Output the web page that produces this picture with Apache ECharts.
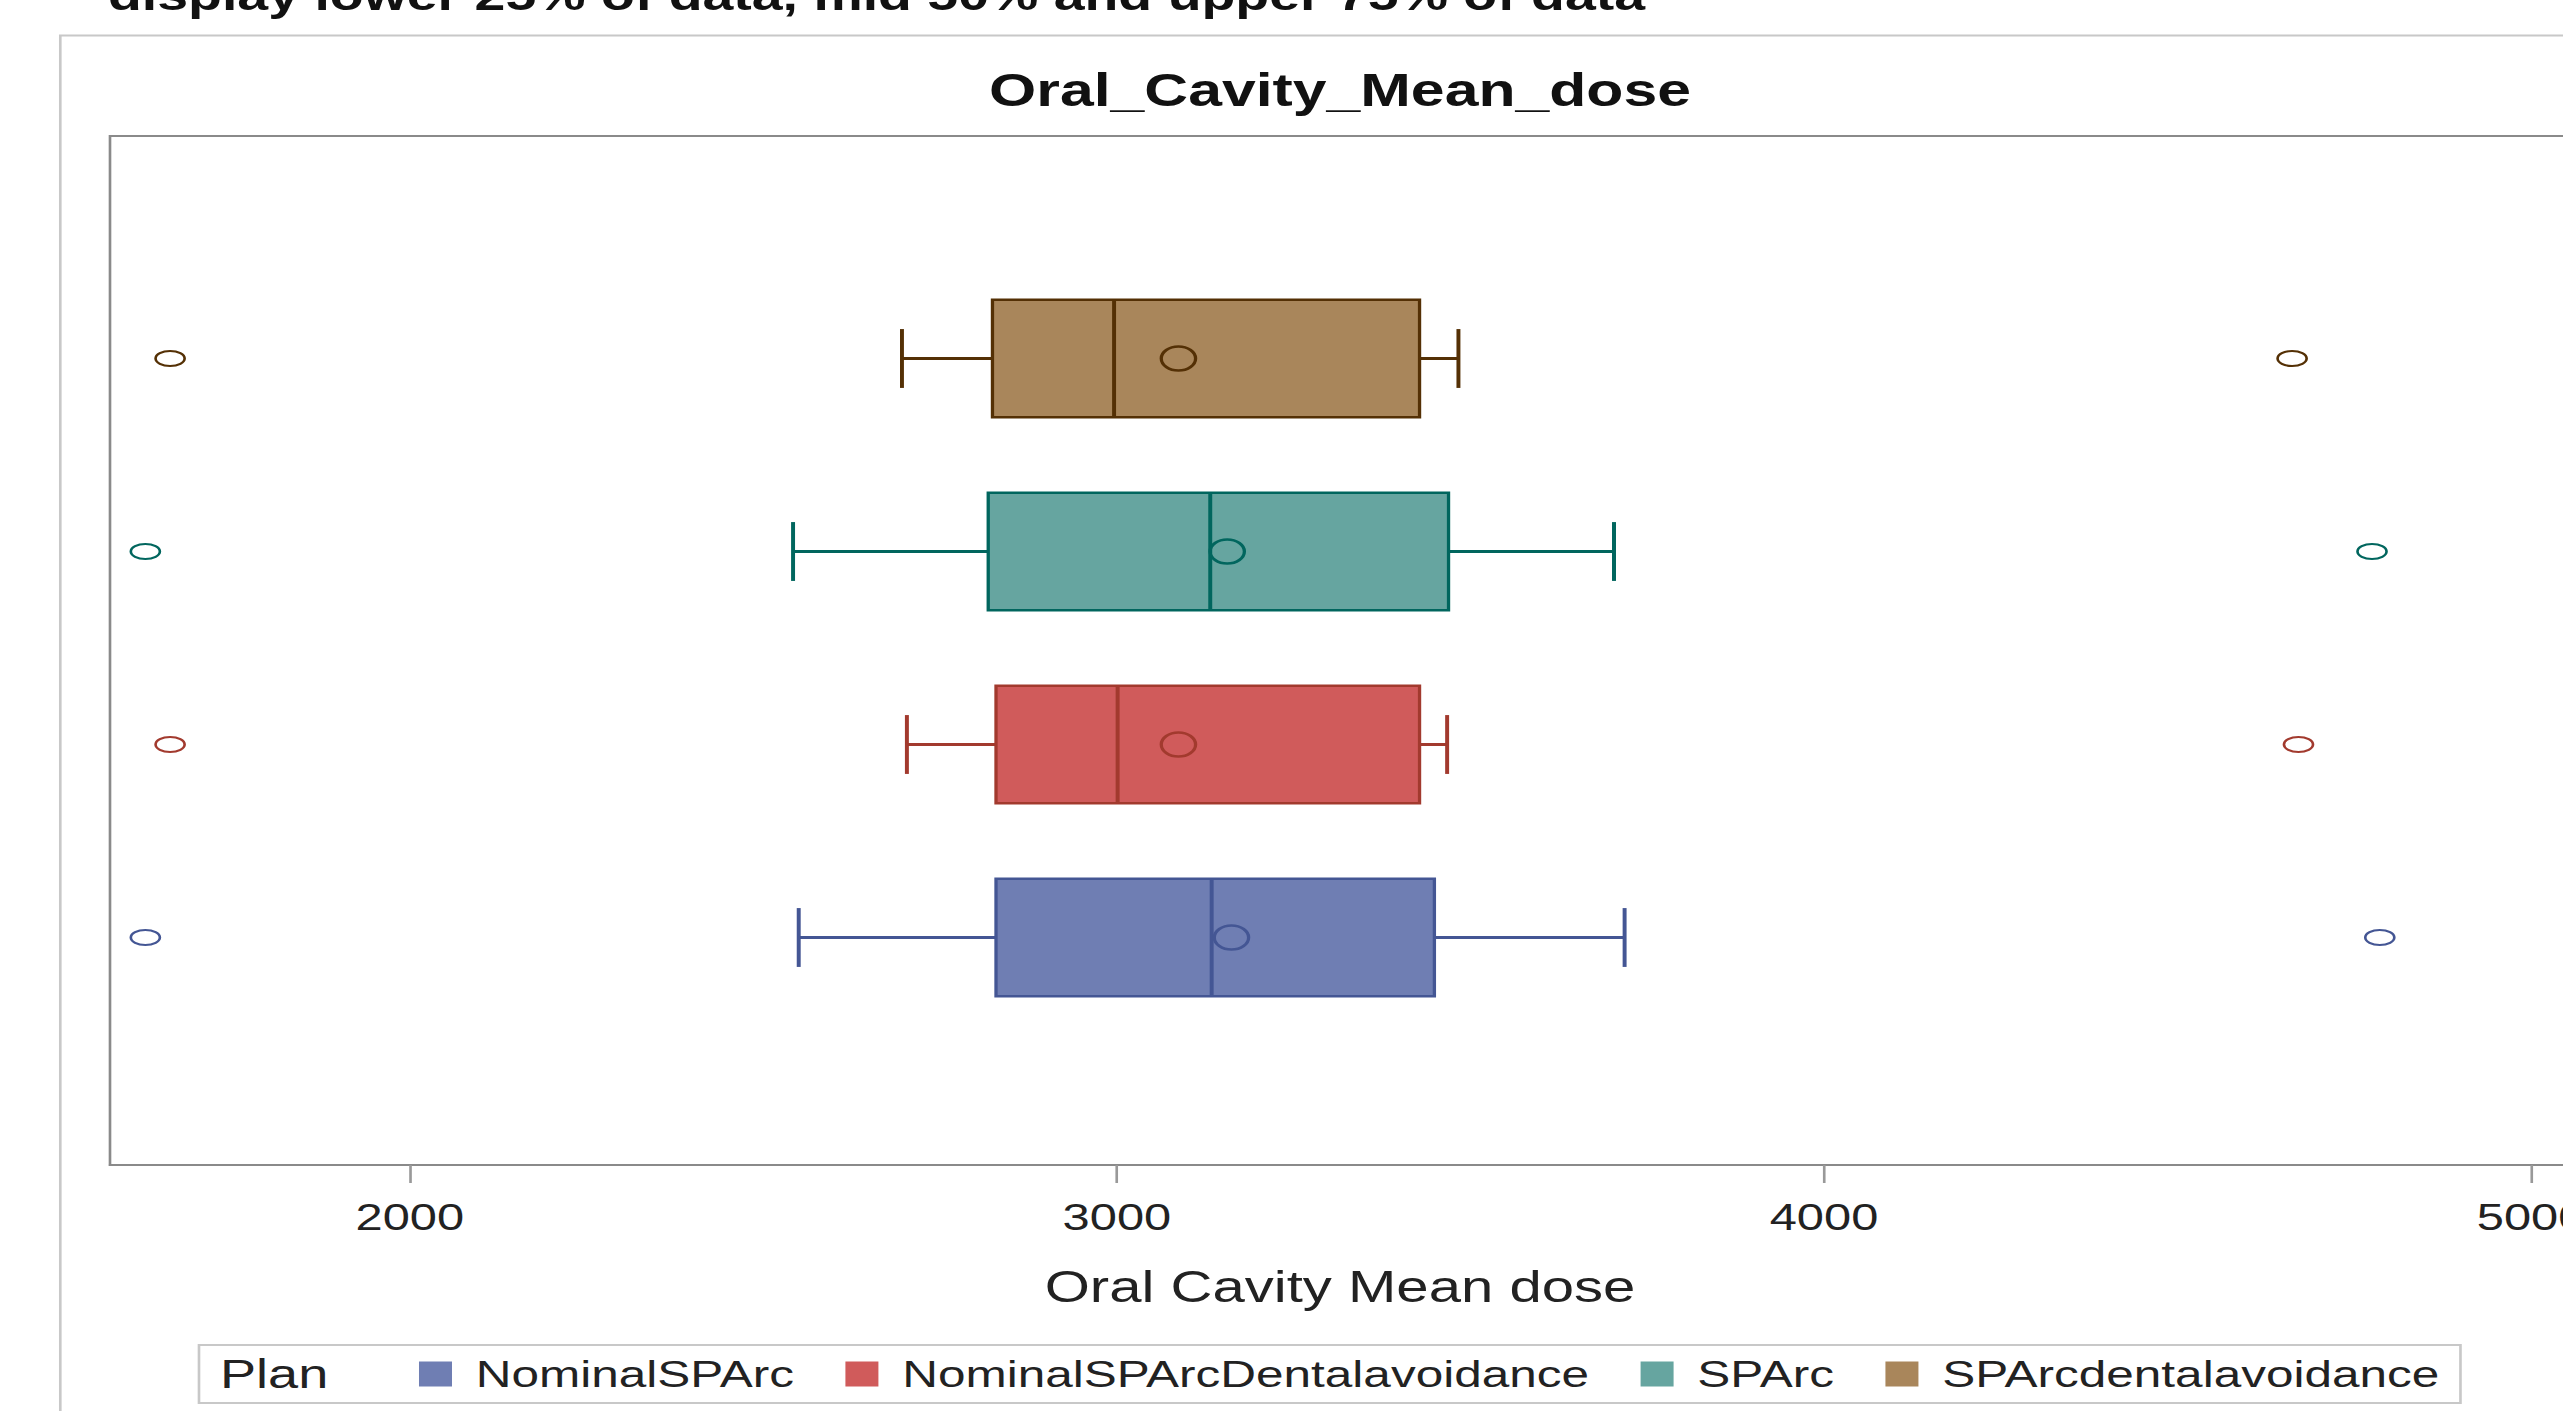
<!DOCTYPE html>
<html>
<head>
<meta charset="utf-8">
<script src="https://cdn.jsdelivr.net/npm/echarts@6/dist/echarts.min.js"></script>
<style>
html, body { margin: 0; padding: 0; overflow: hidden; background: #fff; }
#wrap { position: relative; width: 2563px; height: 1411px; overflow: hidden; }
/* the source picture is stretched sideways, so the whole chart is too */
#boxchart { position: absolute; left: 0; top: 0; width: 2000px; height: 1411px; transform: scaleX(1.32); transform-origin: 0 0; }
</style>
</head>
<body>
<div id="wrap"><div id="boxchart"></div></div>
<script>
var STRETCH = 1.32;
var FONT = "'Liberation Sans', Arial, sans-serif";

// bottom to top on the plot
var plans = ['NominalSPArc', 'NominalSPArcDentalavoidance', 'SPArc', 'SPArcdentalavoidance'];
var fillColors = ['#6F7EB3', '#D05B5B', '#66A5A0', '#A9865B'];
var lineColors = ['#445694', '#A23A2E', '#01665E', '#543005'];

var whiskerLow  = [2550, 2703, 2542, 2696];
var q1          = [2829, 2829, 2818, 2824];
var median      = [3134, 3001, 3132, 2996];
var q3          = [3449, 3428, 3469, 3428];
var whiskerHigh = [3718, 3467, 3703, 3483];
var mean        = [3162, 3087, 3156, 3087];
var outlierLow  = [1626, 1661, 1626, 1661];
var outlierHigh = [4786, 4671, 4775, 4662];

var tickValues = [2000, 3000, 4000, 5000];
var xMin = 1576, xMax = 5055;

function sx(v) { return v / STRETCH; }   // screen px -> chart px (horizontal)

function renderBox(params, api) {
    var i = params.seriesIndex;
    var cat = api.value(0);
    var band = api.size([0, 1])[1];
    var h = band * 0.61;
    var yc = api.coord([api.value(3), cat])[1];
    var xOf = function (v) { return api.coord([v, cat])[0]; };
    var lo = xOf(api.value(1)), b1 = xOf(api.value(2)), md = xOf(api.value(3));
    var b3 = xOf(api.value(4)), hi = xOf(api.value(5)), mn = xOf(api.value(6));
    var oL = xOf(api.value(7)), oH = xOf(api.value(8));
    var c = lineColors[i];
    function ln(x1, y1, x2, y2, w) {
        return { type: 'line', shape: { x1: x1, y1: y1, x2: x2, y2: y2 }, style: { stroke: c, lineWidth: w } };
    }
    function ring(cx, rx, ry, w) {
        return { type: 'ellipse', shape: { cx: cx, cy: yc, rx: rx, ry: ry }, style: { fill: 'none', stroke: c, lineWidth: w } };
    }
    return {
        type: 'group',
        children: [
            ln(lo, yc, b1, yc, 3),
            ln(b3, yc, hi, yc, 3),
            ln(lo, yc - h / 4, lo, yc + h / 4, 3),
            ln(hi, yc - h / 4, hi, yc + h / 4, 3),
            { type: 'rect', shape: { x: b1, y: yc - h / 2, width: b3 - b1, height: h },
              style: { fill: fillColors[i], stroke: c, lineWidth: 2.5 } },
            ln(md, yc - h / 2, md, yc + h / 2, 3),
            ring(mn, 13, 12, 2.5),
            ring(oL, 11, 7.5, 2),
            ring(oH, 11, 7.5, 2)
        ]
    };
}

var series = [];
for (var i = 0; i < plans.length; i++) {
    series.push({
        name: plans[i],
        type: 'custom',
        xAxisIndex: 1,
        yAxisIndex: 1,
        renderItem: renderBox,
        itemStyle: { color: fillColors[i] },
        encode: { x: [1, 2, 3, 4, 5, 6, 7, 8], y: 0 },
        data: [[i, whiskerLow[i], q1[i], median[i], q3[i], whiskerHigh[i], mean[i], outlierLow[i], outlierHigh[i]]]
    });
}

var boxChart = echarts.init(document.getElementById('boxchart'), null, { renderer: 'svg' });

var option = {
    backgroundColor: '#ffffff',
    animation: false,
    title: {
        text: 'Oral_Cavity_Mean_dose',
        left: sx(1340),
        textAlign: 'center',
        top: 67,
        padding: 0,
        textStyle: { fontFamily: FONT, fontSize: 46, fontWeight: 'bold', color: '#111' }
    },
    graphic: [
        {
            type: 'text', left: sx(108), top: -26,
            style: { text: 'display lower 25% of data, mid 50% and upper 75% of data',
                     font: 'bold 42px ' + FONT, fill: '#111' }
        },
        {
            type: 'rect', left: sx(57), top: 33, z: -1,
            shape: { width: sx(2623 - 57), height: 1500 },
            style: { fill: 'none', stroke: '#c8c8c8', lineWidth: 2 }
        },
        {
            type: 'text', left: sx(220), top: 1353,
            style: { text: 'Plan', font: '41px ' + FONT, fill: '#222' }
        }
    ],
    legend: {
        data: plans,
        left: sx(199),
        top: 1345,
        padding: [10, 16, 10, sx(419 - 199)],
        itemGap: 39,
        itemWidth: 25,
        itemHeight: 25,
        icon: 'rect',
        borderColor: '#c8c8c8',
        borderWidth: 2,
        itemStyle: { borderWidth: 0 },
        textStyle: { fontFamily: FONT, fontSize: 37.5, color: '#222', padding: [0, 0, 0, 13] }
    },
    grid: [
        { left: sx(110), right: 2000 - sx(2570), top: 136, bottom: 1411 - 1165,
          show: true, borderColor: '#8a8a8a', borderWidth: 2, backgroundColor: '#fff' },
        { left: sx(110), right: 2000 - sx(2570), top: 262, bottom: 1411 - 1034 }
    ],
    xAxis: [
        {
            gridIndex: 0, type: 'value', min: xMin, max: xMax,
            name: 'Oral Cavity Mean dose', nameLocation: 'middle', nameGap: 100,
            nameTextStyle: { fontFamily: FONT, fontSize: 44, color: '#222' },
            axisLine: { show: true, lineStyle: { color: '#8a8a8a', width: 2 } },
            axisTick: { show: true, length: 18, customValues: tickValues, lineStyle: { color: '#999', width: 2 } },
            axisLabel: { customValues: tickValues, margin: 34, fontFamily: FONT, fontSize: 37, color: '#222',
                         formatter: function (v) { return String(v); } },
            splitLine: { show: false }
        },
        { gridIndex: 1, type: 'value', min: xMin, max: xMax, show: false }
    ],
    yAxis: [
        { gridIndex: 0, type: 'value', show: false },
        { gridIndex: 1, type: 'category', data: plans, show: false, boundaryGap: true }
    ],
    series: series
};

boxChart.setOption(option);
</script>
</body>
</html>
